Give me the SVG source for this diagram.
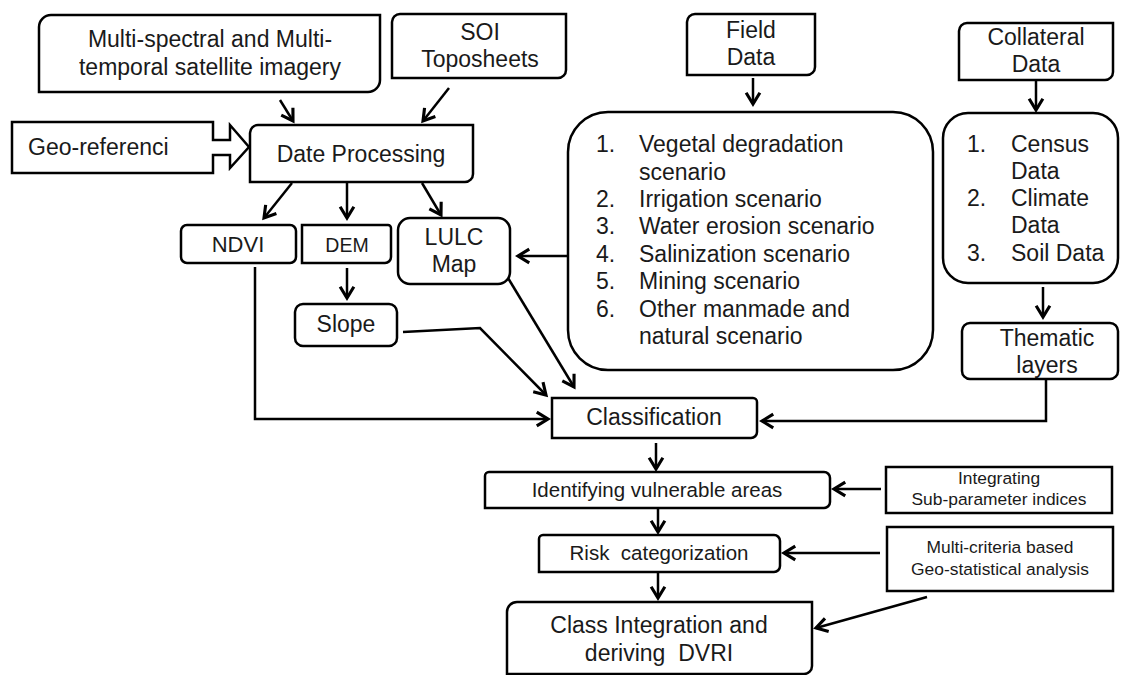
<svg xmlns="http://www.w3.org/2000/svg" width="1122" height="675" viewBox="0 0 1122 675">
<style>
.n{fill:#fff;stroke:#000;stroke-width:2.5}
.t{font-family:"Liberation Sans",Arial,sans-serif;font-size:23px;fill:#1a1a1a}
.c{text-anchor:middle}
.s{font-size:20.5px}
.xs{font-size:17.4px}
.e{fill:none;stroke:#000;stroke-width:2.5}
</style>
<defs>
<marker id="a" markerUnits="userSpaceOnUse" markerWidth="20" markerHeight="20" viewBox="-12 -8 14 16" refX="0" refY="0" orient="auto">
<path d="M-9,-5.5 L0,0 L-9,5.5" fill="none" stroke="#000" stroke-width="2.5" stroke-linejoin="miter"/>
</marker>
</defs>
<rect width="1122" height="675" fill="#fff"/>

<g id="connectors" class="e" marker-end="url(#a)">
<path d="M280,100 L293,121"/>
<path d="M449,88 L423,121"/>
<path d="M292,183 L264,218"/>
<path d="M347,183 L347,218"/>
<path d="M422,183 L441,215"/>
<path d="M347,268 L347,298"/>
<path d="M753,78 L753,104"/>
<path d="M1036,80 L1036,110"/>
<path d="M1043,287 L1043,317"/>
<path d="M568,256 L518,256"/>
<path d="M255,267 V419 H548"/>
<path d="M403,332 L480,328 L546,395"/>
<path d="M508,278 L574,387"/>
<path d="M1046,380 V421 H762"/>
<path d="M656,443 V469"/>
<path d="M658,508 V532"/>
<path d="M658,573 V598"/>
<path d="M881,489 H834"/>
<path d="M880,553 H784"/>
<path d="M927,597 L816,628"/>
</g>

<g id="multispectral">
<path class="n" d="M51,15 H380 V80 A12,12 0 0 1 368,92 H39 V27 A12,12 0 0 1 51,15 Z"/>
<text class="t c" x="210" y="47">Multi-spectral and Multi-</text>
<text class="t c" x="210" y="75">temporal satellite imagery</text>
</g>

<g id="soi">
<path class="n" d="M400,14 H566 V70 A8,8 0 0 1 558,78 H392 V22 A8,8 0 0 1 400,14 Z"/>
<text class="t c" x="480" y="40">SOI</text>
<text class="t c" x="480" y="67">Toposheets</text>
</g>

<g id="georef">
<path class="n" d="M12,122 H213 V140 H230 V125 L249,147 L230,168 V155 H213 V173 H12 Z"/>
<text class="t" x="28" y="155">Geo-referenci</text>
</g>

<g id="dateprocessing">
<path class="n" d="M258,125 H473 V174 A8,8 0 0 1 465,182 H250 V133 A8,8 0 0 1 258,125 Z"/>
<text class="t c" x="361" y="162">Date Processing</text>
</g>

<g id="fielddata">
<path class="n" d="M695,14 H815 V67 A8,8 0 0 1 807,75 H687 V22 A8,8 0 0 1 695,14 Z"/>
<text class="t c" x="751" y="38">Field</text>
<text class="t c" x="751" y="65">Data</text>
</g>

<g id="collateral">
<path class="n" d="M967,23 H1113 V72 A8,8 0 0 1 1105,80 H959 V31 A8,8 0 0 1 967,23 Z"/>
<text class="t c" x="1036" y="45">Collateral</text>
<text class="t c" x="1036" y="72">Data</text>
</g>

<g id="scenarios">
<rect class="n" x="568" y="112" width="365" height="258" rx="40"/>
<text class="t" x="596" y="152">1.</text><text class="t" x="639" y="152">Vegetal degradation</text>
<text class="t" x="639" y="180">scenario</text>
<text class="t" x="596" y="207">2.</text><text class="t" x="639" y="207">Irrigation scenario</text>
<text class="t" x="596" y="234">3.</text><text class="t" x="639" y="234">Water erosion scenario</text>
<text class="t" x="596" y="262">4.</text><text class="t" x="639" y="262">Salinization scenario</text>
<text class="t" x="596" y="289">5.</text><text class="t" x="639" y="289">Mining scenario</text>
<text class="t" x="596" y="317">6.</text><text class="t" x="639" y="317">Other manmade and</text>
<text class="t" x="639" y="344">natural scenario</text>
</g>

<g id="collaterallist">
<rect class="n" x="943" y="113" width="175" height="170" rx="25"/>
<text class="t" x="967" y="152">1.</text><text class="t" x="1011" y="152">Census</text>
<text class="t" x="1011" y="179">Data</text>
<text class="t" x="967" y="206">2.</text><text class="t" x="1011" y="206">Climate</text>
<text class="t" x="1011" y="233">Data</text>
<text class="t" x="967" y="261">3.</text><text class="t" x="1011" y="261">Soil Data</text>
</g>

<g id="thematic">
<rect class="n" x="962" y="323" width="156" height="56" rx="8"/>
<text class="t c" x="1047" y="346">Thematic</text>
<text class="t c" x="1047" y="373">layers</text>
</g>

<g id="ndvi">
<rect class="n" x="181" y="225" width="115" height="38" rx="6"/>
<text class="t c" x="238" y="252" style="font-size:22px">NDVI</text>
</g>

<g id="dem">
<path class="n" d="M302,225 H388 A3,3 0 0 1 391,228 V257 A6,6 0 0 1 385,263 H302 Z"/>
<text class="t c" x="347" y="252" style="font-size:19.5px">DEM</text>
</g>

<g id="lulc">
<rect class="n" x="398" y="218" width="112" height="66" rx="12"/>
<text class="t c" x="454" y="245">LULC</text>
<text class="t c" x="454" y="272">Map</text>
</g>

<g id="slope">
<rect class="n" x="295" y="304" width="102" height="42" rx="8"/>
<text class="t c" x="346" y="332">Slope</text>
</g>

<g id="classification">
<path class="n" d="M552,398 H753 A4,4 0 0 1 757,402 V432 A6,6 0 0 1 751,438 H552 Z"/>
<text class="t c" x="654" y="425">Classification</text>
</g>

<g id="identifying">
<path class="n" d="M489,472 H824 A6,6 0 0 1 830,478 V502 A6,6 0 0 1 824,508 H485 V476 A4,4 0 0 1 489,472 Z"/>
<text class="t c s" x="657" y="497">Identifying vulnerable areas</text>
</g>

<g id="risk">
<path class="n" d="M543,535 H774 A6,6 0 0 1 780,541 V566 A6,6 0 0 1 774,572 H539 V539 A4,4 0 0 1 543,535 Z"/>
<text class="t c s" x="659" y="560" xml:space="preserve">Risk  categorization</text>
</g>

<g id="classintegration">
<path class="n" d="M517,602 H812 V666 A8,8 0 0 1 804,674 H507 V612 A10,10 0 0 1 517,602 Z"/>
<text class="t c" x="659" y="633">Class Integration and</text>
<text class="t c" x="659" y="661" xml:space="preserve">deriving  DVRI</text>
</g>

<g id="integrating">
<rect class="n" x="886" y="467" width="226" height="46"/>
<text class="t c xs" x="999" y="484">Integrating</text>
<text class="t c xs" x="999" y="505">Sub-parameter indices</text>
</g>

<g id="multicriteria">
<rect class="n" x="887" y="527" width="226" height="64"/>
<text class="t c xs" x="1000" y="553">Multi-criteria based</text>
<text class="t c xs" x="1000" y="575">Geo-statistical analysis</text>
</g>
</svg>
